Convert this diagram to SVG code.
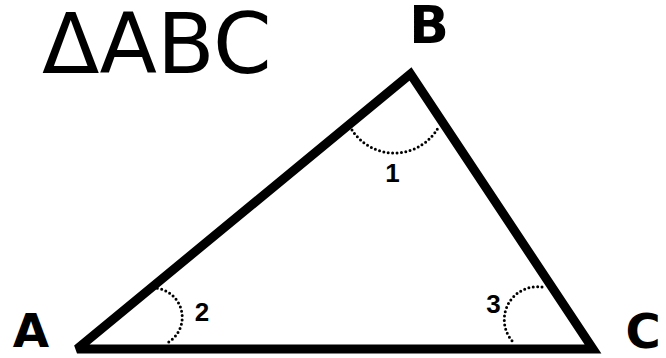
<svg xmlns="http://www.w3.org/2000/svg" width="666" height="358" viewBox="0 0 666 358">
<style>
.tri{fill:none;stroke:#000;stroke-width:9;stroke-linejoin:miter;stroke-miterlimit:2.5}
.arc{fill:none;stroke:#000;stroke-width:3;stroke-linecap:round;stroke-dasharray:0 4.4}
.vl{font-family:"DejaVu Sans",sans-serif;font-weight:bold;fill:#000;text-anchor:middle}
.num{font-family:"Liberation Sans",Arial,sans-serif;font-weight:bold;font-size:26px;fill:#000;text-anchor:middle}
.title{font-family:"DejaVu Sans",sans-serif;font-size:84px;fill:#000}
</style>
<rect width="666" height="358" fill="#fff"/>
<text class="title" x="42" y="73">ΔABC</text>
<g id="connectors">
<polygon class="tri" points="77,349 410.5,74 593,349"/>
</g>
<g id="angleB">
<path class="arc" d="M352,130 A50.5,50.5 0 0 0 438,128"/>
<text class="num" x="392.5" y="182">1</text>
</g>
<g id="angleA">
<path class="arc" d="M153,288 A29.3,29.3 0 0 1 167,343"/>
<text class="num" x="202" y="321">2</text>
</g>
<g id="angleC">
<path class="arc" d="M542,287 A33,33 0 0 0 513,342"/>
<text class="num" x="493.5" y="313">3</text>
</g>
<g id="A"><text class="vl" x="31" y="347" font-size="47">A</text></g>
<g id="B"><text class="vl" x="429" y="43" font-size="52">B</text></g>
<g id="C"><text class="vl" x="643" y="348" font-size="48">C</text></g>
</svg>
